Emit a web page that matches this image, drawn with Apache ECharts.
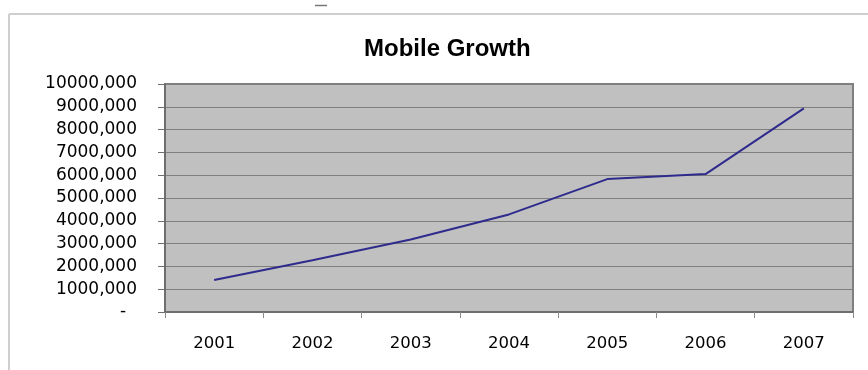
<!DOCTYPE html>
<html>
<head>
<meta charset="utf-8">
<title>Mobile Growth</title>
<script src="https://cdn.jsdelivr.net/npm/echarts@6/dist/echarts.min.js"></script>
<style>
  html, body { margin: 0; padding: 0; background: #ffffff; }
  #chart { width: 868px; height: 370px; }
</style>
</head>
<body>
<div id="chart"></div>
<script>
// Mobile subscribers per year
const years = ['2001', '2002', '2003', '2004', '2005', '2006', '2007'];
const subscribers = [1400000, 2270000, 3180000, 4280000, 5830000, 6050000, 8930000];

const chart = echarts.init(document.getElementById('chart'), null, { renderer: 'canvas' });

// Thousands shown with a single separator, zero shown as a dash
function formatAxisValue(v) {
  if (v === 0) return '-\u00a0\u00a0';
  return (v / 1000) + ',000';
}

chart.setOption({
  animation: false,
  backgroundColor: '#ffffff',
  title: {
    text: 'Mobile Growth',
    left: 359,
    top: 32,
    textStyle: {
      fontFamily: 'Liberation Sans',
      fontWeight: 'bold',
      fontSize: 24,
      color: '#000000'
    }
  },
  graphic: [
    { type: 'line', shape: { x1: 9, y1: 14, x2: 868, y2: 14 },
      style: { stroke: '#cfcfcf', lineWidth: 2 }, silent: true },
    { type: 'line', shape: { x1: 9, y1: 14, x2: 9, y2: 370 },
      style: { stroke: '#cfcfcf', lineWidth: 2 }, silent: true },
    { type: 'line', shape: { x1: 315, y1: 5.5, x2: 327, y2: 5.5 },
      style: { stroke: '#777777', lineWidth: 1.5 }, silent: true }
  ],
  grid: {
    left: 165,
    right: 15,
    top: 84,
    bottom: 58,
    show: true,
    backgroundColor: '#c0c0c0',
    borderColor: '#7f7f7f',
    borderWidth: 2
  },
  xAxis: {
    type: 'category',
    data: years,
    boundaryGap: true,
    axisLine: { lineStyle: { color: '#6e6e6e', width: 2 } },
    axisTick: { show: true, length: 6, lineStyle: { color: '#8a8a8a', width: 1 } },
    axisLabel: {
      margin: 23,
      fontFamily: 'DejaVu Sans',
      fontSize: 16.5,
      color: '#000000'
    },
    splitLine: { show: false }
  },
  yAxis: {
    type: 'value',
    min: 0,
    max: 10000000,
    interval: 1000000,
    axisLine: { show: true, lineStyle: { color: '#6e6e6e', width: 2 } },
    axisTick: { show: true, length: 7, lineStyle: { color: '#6e6e6e', width: 1 } },
    axisLabel: {
      margin: 28,
      fontFamily: 'DejaVu Sans',
      fontSize: 17,
      color: '#000000',
      formatter: formatAxisValue
    },
    splitLine: { show: true, lineStyle: { color: '#7f7f7f', width: 1 } }
  },
  series: [{
    name: 'Mobile Growth',
    type: 'line',
    data: subscribers,
    symbol: 'none',
    lineStyle: { color: '#2e2b8c', width: 2 }
  }]
});
</script>
</body>
</html>
